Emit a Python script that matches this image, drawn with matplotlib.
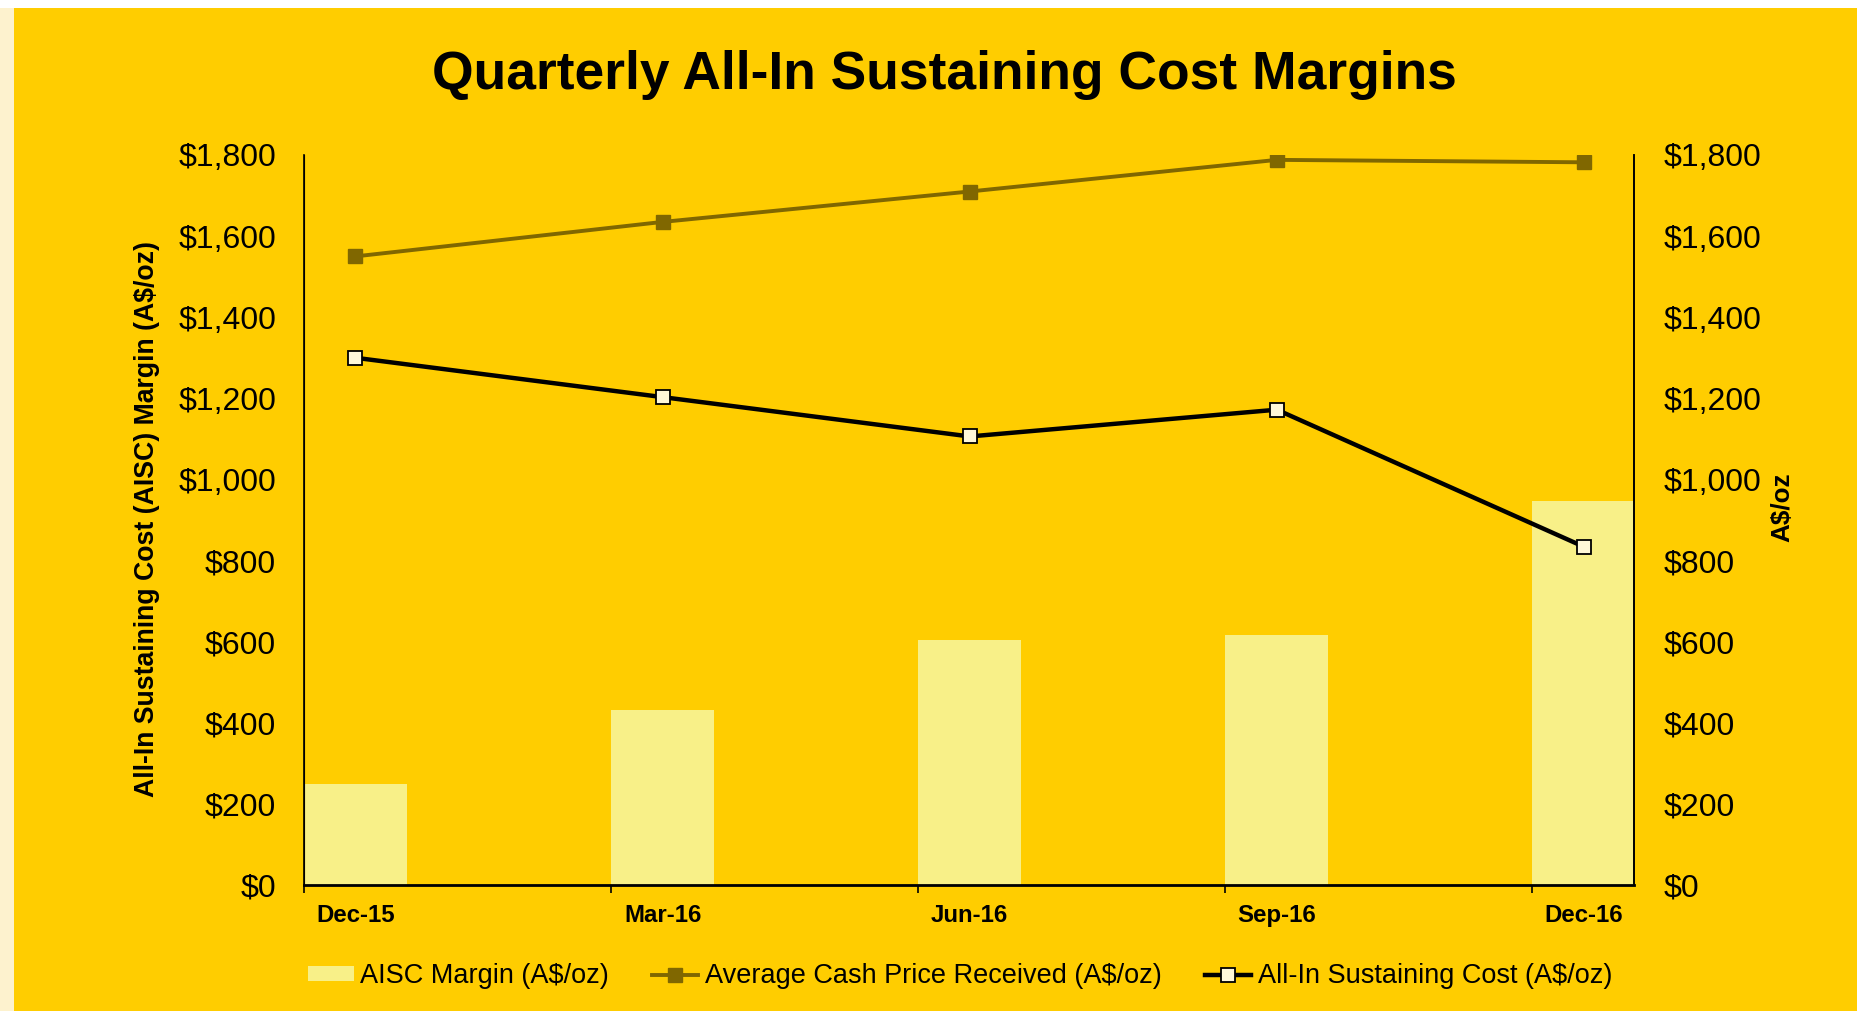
import numpy as np
import matplotlib.pyplot as plt
from matplotlib.ticker import FuncFormatter, FixedLocator

# datos (A$/oz)
trimestres = ['Dec-15', 'Mar-16', 'Jun-16', 'Sep-16', 'Dec-16']
precio = [1550, 1635, 1710, 1788, 1782]
aisc = [1300, 1203, 1106, 1172, 834]
margen = [250, 432, 604, 616, 948]

amarillo = '#FFCD00'
barra = '#F8F088'
oliva = '#806700'

plt.rcParams['font.family'] = ['Liberation Sans', 'DejaVu Sans']

W, H = 1857, 1011
fig = plt.figure(figsize=(W / 100, H / 100), dpi=100)
fig.patch.set_facecolor(amarillo)
# franjas de los bordes
fig.patches.append(plt.Rectangle((0, 1 - 8 / H), 1, 8 / H, transform=fig.transFigure,
                                 facecolor='white', edgecolor='none', zorder=0))
fig.patches.append(plt.Rectangle((0, 0), 14 / W, 1 - 8 / H, transform=fig.transFigure,
                                 facecolor='#FDF2CE', edgecolor='none', zorder=0))

x0, x1, ytop, ybot = 304, 1634, 155, 885
ax = fig.add_axes([x0 / W, 1 - ybot / H, (x1 - x0) / W, (ybot - ytop) / H])
ax.set_facecolor('none')

x = np.arange(len(trimestres))
ancho = 0.335
ax.bar(x, margen, width=ancho, color=barra, zorder=1, label='AISC Margin (A$/oz)')
ax.plot(x, precio, color=oliva, lw=2.8, marker='s', ms=10, mfc=oliva, mec=oliva,
        zorder=3, label='Average Cash Price Received (A$/oz)')
ax.plot(x, aisc, color='black', lw=3.2, marker='s', ms=10, mfc='#FFF8D8', mec='black',
        mew=1.3, zorder=4, label='All-In Sustaining Cost (A$/oz)')

ax.set_xlim(-ancho / 2, 4.163)
ax.set_ylim(0, 1800)
ax.set_yticks(np.arange(0, 1801, 200))
fmt = FuncFormatter(lambda v, p: '${:,.0f}'.format(v))
ax.yaxis.set_major_formatter(fmt)
ax.tick_params(axis='y', length=0, labelsize=23, pad=20)

# marcas en el borde izquierdo de cada barra, etiquetas al centro
ax.xaxis.set_major_locator(FixedLocator(x - ancho / 2))
ax.xaxis.set_minor_locator(FixedLocator(x))
ax.set_xticklabels([''] * len(x))
ax.set_xticklabels(trimestres, minor=True, fontweight='bold', fontsize=17.3)
ax.tick_params(axis='x', which='major', length=6, width=1.2, color='black')
ax.tick_params(axis='x', which='minor', length=0, pad=14)

ax.spines['top'].set_visible(False)
ax.spines['left'].set_linewidth(1.2)
ax.spines['right'].set_linewidth(1.2)
ax.spines['bottom'].set_linewidth(2)

ax2 = ax.twinx()
ax2.set_ylim(0, 1800)
ax2.set_yticks(np.arange(0, 1801, 200))
ax2.yaxis.set_major_formatter(fmt)
ax2.tick_params(axis='y', length=0, labelsize=23, pad=21)
ax2.spines['top'].set_visible(False)
ax2.spines['right'].set_linewidth(1.2)

fig.text(147 / W, 1 - 519 / H, 'All-In Sustaining Cost (AISC) Margin (A$/oz)',
         rotation=90, ha='center', va='center', fontsize=19.2, fontweight='bold')
fig.text(1782 / W, 1 - 507 / H, 'A$/oz', rotation=90, ha='center', va='center',
         fontsize=18.8, fontweight='bold')

fig.text(944 / W, 1 - 75 / H, 'Quarterly All-In Sustaining Cost Margins',
         ha='center', va='center', fontsize=38.4, fontweight='bold')

h, l = ax.get_legend_handles_labels()
orden = [2, 0, 1]
fig.legend([h[i] for i in orden], [l[i] for i in orden], loc='center',
           bbox_to_anchor=(960 / W, 1 - 976 / H), ncol=3, frameon=False, fontsize=19.5,
           handlelength=1.7, handleheight=0.45, handletextpad=0.25, columnspacing=1.6)

fig.savefig('out.png', dpi=100, facecolor=fig.get_facecolor())
